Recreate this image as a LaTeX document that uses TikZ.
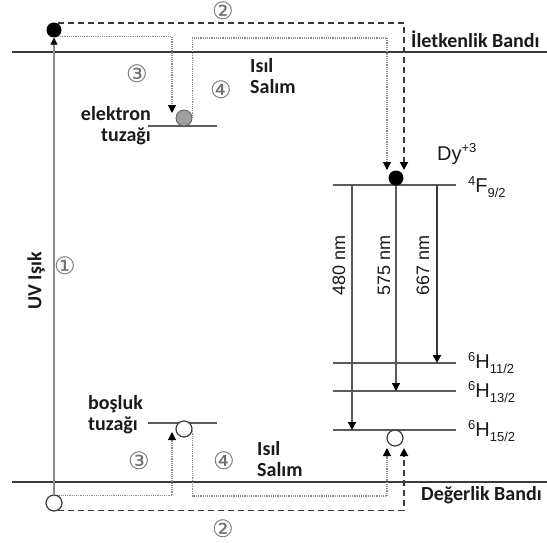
\documentclass[tikz,border=0pt]{standalone}
\usepackage{fontspec}
\newfontfamily\labelfont{Carlito}
\newfontfamily\levelfont{Liberation Sans}
\newfontfamily\circfont{DejaVu Sans}
\usetikzlibrary{arrows.meta}
\definecolor{color_band}{HTML}{3A3A3A}
\definecolor{color_level}{HTML}{5A5A5A}
\definecolor{color_text}{HTML}{1A1A1A}
\definecolor{color_mute}{HTML}{8C8C8C}
\definecolor{color_num}{HTML}{6E6E6E}
\definecolor{color_trap}{HTML}{A0A0A0}
\newcommand\termsym[3]{\raisebox{7pt}{\fontsize{13}{13}\selectfont #1}#2\raisebox{-5pt}{\fontsize{13}{13}\selectfont #3}}
\tikzset{
  band_line/.style={draw=color_band, line width=2.6pt},
  level_line/.style={draw=color_level, line width=1.5pt},
  uv_arrow/.style={draw=color_mute, line width=1.3pt, -{Triangle[length=7pt, width=7pt, color=black]}},
  jump_dash/.style={draw=color_band, line width=1.8pt, dash pattern=on 6pt off 4pt, -{Triangle[length=8pt, width=8pt, color=black]}},
  jump_dot/.style={draw=color_mute, line width=1.1pt, dash pattern=on 1.2pt off 1pt, -{Triangle[length=8pt, width=8pt, color=black]}},
  emit_arrow/.style={draw=color_level, line width=1.2pt, -{Triangle[length=8pt, width=8pt, color=black]}},
  emit_strong/.style={emit_arrow, draw=color_band, line width=1.9pt},
  electron_dot/.style={circle, fill=black, inner sep=0pt, minimum size=15pt},
  hole_dot/.style={circle, fill=white, draw=color_band, line width=1.2pt, inner sep=0pt, minimum size=16pt},
  trap_dot/.style={circle, fill=color_trap, draw=color_level, line width=0.8pt, inner sep=0pt, minimum size=16pt},
  band_label/.style={font=\labelfont\bfseries\fontsize{20}{21}\selectfont, text=color_text, inner sep=0pt},
  level_label/.style={font=\levelfont\fontsize{20}{22}\selectfont, text=color_text, inner sep=0pt, anchor=base west},
  nm_label/.style={font=\levelfont\fontsize{18}{20}\selectfont, text=color_text, inner sep=0pt, rotate=90},
  step_num/.style={font=\circfont\fontsize{24}{24}\selectfont, text=color_num, inner sep=0pt},
}

\begin{document}
\begin{tikzpicture}[x=1pt, y=-1pt]
    \useasboundingbox (0,0) rectangle (547,542);
    % Bands
    \draw[band_line] (12,52) -- (547,52);
    \draw[band_line] (12,482) -- (547,482);
    \node[band_label, anchor=base west] (cb_text) at (411,47) {İletkenlik Bandı};
    \node[band_label, anchor=base west] (vb_text) at (421,500) {Değerlik Bandı};
    % Trap levels
    \draw[level_line] (148,126) -- (217,126);
    \draw[level_line] (148,423) -- (217,423);
    % Dy levels
    \draw[level_line] (333,185) -- (456,185);
    \draw[level_line] (333,363) -- (456,363);
    \draw[level_line] (333,391) -- (456,391);
    \draw[level_line] (333,430) -- (456,430);
    % Carriers
    \node[electron_dot] (e_cb) at (54,30) {};
    \node[hole_dot] (h_vb) at (54,503) {};
    \node[trap_dot] (e_trap) at (184,118) {};
    \node[hole_dot] (h_trap) at (184,429) {};
    \node[electron_dot] (dy_e) at (396,178) {};
    \node[hole_dot] (dy_h) at (395,438) {};
    % Turning points and arrow ends
    \coordinate (etrap_in) at (172,113);
    \coordinate (htrap_in) at (172,432);
    \coordinate (top_turn) at (387,38);
    \coordinate (bot_turn) at (387,496);
    \coordinate (dye_dot_in) at (387,170);
    \coordinate (dye_dash_in) at (404,170);
    \coordinate (dyh_dot_in) at (387,448);
    \coordinate (dyh_dash_in) at (404,448);
    % UV excitation
    \draw[uv_arrow] (h_vb.north) -- (e_cb.south);
    % Transfer paths
    \draw[jump_dash] (e_cb.60) -| (dye_dash_in);
    \draw[jump_dot] (e_cb.-60) -| (etrap_in);
    \draw[jump_dot, -] (e_trap.east) |- (top_turn);
    \draw[jump_dot] (top_turn) -- (dye_dot_in);
    \draw[jump_dash] (h_vb.-60) -| (dyh_dash_in);
    \draw[jump_dot] (h_vb.60) -| (htrap_in);
    \draw[jump_dot, -] (h_trap.east) |- (bot_turn);
    \draw[jump_dot] (bot_turn) -- (dyh_dot_in);
    % Emissions
    \coordinate (f_480) at (352,185);
    \coordinate (h_480) at (352,430);
    \coordinate (h_575) at (396,391);
    \coordinate (f_667) at (437,185);
    \coordinate (h_667) at (437,363);
    \draw[emit_arrow] (f_480) -- (h_480);
    \draw[emit_arrow] (dy_e.south) -- (h_575);
    \draw[emit_strong] (f_667) -- (h_667);
    \node[nm_label] (nm_480) at (339,265) {480 nm};
    \node[nm_label] (nm_575) at (384,265) {575 nm};
    \node[nm_label] (nm_667) at (423,265) {667 nm};
    % Level names
    \node[level_label] (dy_text) at (437,160) {Dy\raisebox{8pt}{\fontsize{13}{13}\selectfont +3}};
    \node[level_label] (f92_text) at (468,192) {\termsym{4}{F}{9/2}};
    \node[level_label] (h112_text) at (468,368) {\termsym{6}{H}{11/2}};
    \node[level_label] (h132_text) at (468,397) {\termsym{6}{H}{13/2}};
    \node[level_label] (h152_text) at (468,436) {\termsym{6}{H}{15/2}};
    % Other labels
    \node[band_label, rotate=90] (uv_text) at (36,281) {UV Işık};
    \node[band_label, align=right, anchor=base east] (etrap_text) at (151,141) {elektron\\tuzağı};
    \node[band_label, align=left, anchor=base west] (htrap_text) at (88,430) {boşluk\\tuzağı};
    \node[band_label, align=left, anchor=base west] (heat_top) at (250,93) {Isıl\\Salım};
    \node[band_label, align=left, anchor=base west] (heat_bot) at (257,476) {Isıl\\Salım};
    % Step numbers
    \node[step_num] (num_1) at (65,266) {①};
    \node[step_num] (num_2t) at (223,11) {②};
    \node[step_num] (num_3t) at (137,74) {③};
    \node[step_num] (num_4t) at (221,90) {④};
    \node[step_num] (num_3b) at (139,461) {③};
    \node[step_num] (num_4b) at (224,461) {④};
    \node[step_num] (num_2b) at (223,529) {②};
\end{tikzpicture}
\end{document}
